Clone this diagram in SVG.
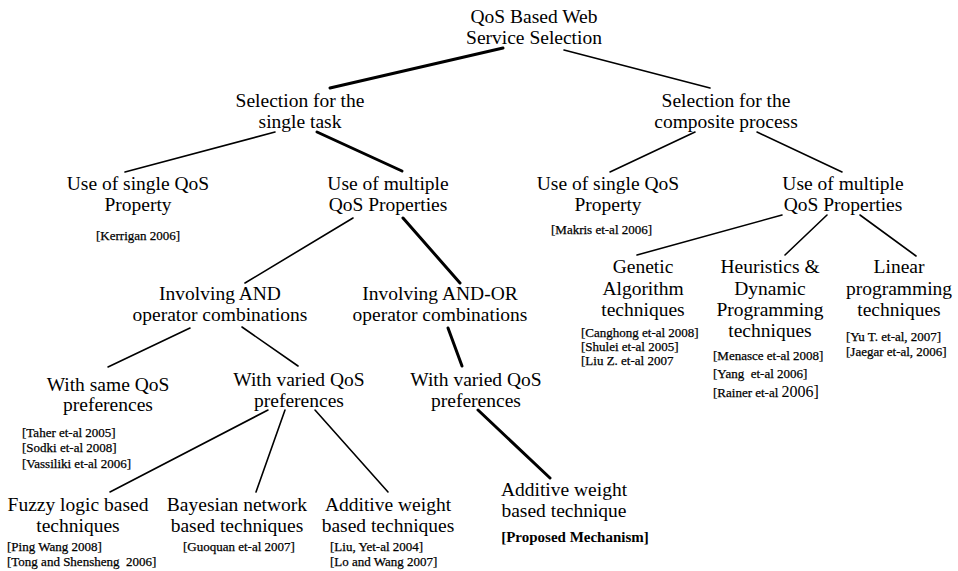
<svg xmlns="http://www.w3.org/2000/svg" width="958" height="571" viewBox="0 0 958 571" font-family="Liberation Serif, serif">
<style>
svg text, svg tspan, .t, .c, .pm{font-family:'Liberation Serif',serif !important}
.t{font-size:19.5px;text-anchor:middle;fill:#000}
.c{font-size:13px;fill:#000;stroke:#000;stroke-width:0.25;white-space:pre}
.pm{font-size:15px;font-weight:bold;text-anchor:middle;fill:#000}
.thin{stroke:#000;stroke-width:1.6;fill:none;stroke-linecap:round}
.thick{stroke:#000;stroke-width:3;fill:none;stroke-linecap:round}
</style>
<rect width="958" height="571" fill="#fff"/>
<g id="connectors">
<line class="thick" x1="503" y1="48" x2="330" y2="88"/>
<line class="thin" x1="564" y1="50" x2="710" y2="88"/>
<line class="thin" x1="275" y1="132" x2="125" y2="172"/>
<line class="thick" x1="317" y1="132" x2="402" y2="171"/>
<line class="thin" x1="695" y1="132" x2="610" y2="172"/>
<line class="thin" x1="757" y1="132" x2="842" y2="172"/>
<line class="thin" x1="782" y1="215" x2="637" y2="255"/>
<line class="thin" x1="827" y1="215" x2="785" y2="255"/>
<line class="thin" x1="860" y1="215" x2="916" y2="256"/>
<line class="thin" x1="353" y1="218" x2="245" y2="283"/>
<line class="thick" x1="403" y1="218" x2="460" y2="283"/>
<line class="thin" x1="190" y1="328" x2="108" y2="367"/>
<line class="thin" x1="242" y1="327" x2="298" y2="366"/>
<line class="thick" x1="448" y1="328" x2="462" y2="366"/>
<line class="thin" x1="268" y1="410" x2="110" y2="492"/>
<line class="thin" x1="285" y1="410" x2="256" y2="492"/>
<line class="thin" x1="315" y1="410" x2="388" y2="492"/>
<line class="thick" x1="478" y1="410" x2="550" y2="478"/>
</g>
<g id="root" font-family="Liberation Serif, serif">
<text class="t" x="534" y="23">QoS Based Web</text>
<text class="t" x="534" y="44">Service Selection</text>
</g>
<g id="sel-single" font-family="Liberation Serif, serif">
<text class="t" x="300" y="107">Selection for the</text>
<text class="t" x="300" y="128">single task</text>
</g>
<g id="sel-composite" font-family="Liberation Serif, serif">
<text class="t" x="726" y="107">Selection for the</text>
<text class="t" x="726" y="128">composite process</text>
</g>
<g id="single-left" font-family="Liberation Serif, serif">
<text class="t" x="138" y="190">Use of single QoS</text>
<text class="t" x="138" y="211">Property</text>
<text class="c" x="96" y="240">[Kerrigan 2006]</text>
</g>
<g id="multi-left" font-family="Liberation Serif, serif">
<text class="t" x="388" y="190">Use of multiple</text>
<text class="t" x="388" y="211">QoS Properties</text>
</g>
<g id="single-right" font-family="Liberation Serif, serif">
<text class="t" x="608" y="190">Use of single QoS</text>
<text class="t" x="608" y="211">Property</text>
<text class="c" x="551" y="234">[Makris et-al 2006]</text>
</g>
<g id="multi-right" font-family="Liberation Serif, serif">
<text class="t" x="843" y="190">Use of multiple</text>
<text class="t" x="843" y="211">QoS Properties</text>
</g>
<g id="genetic" font-family="Liberation Serif, serif">
<text class="t" x="643" y="273">Genetic</text>
<text class="t" x="643" y="295">Algorithm</text>
<text class="t" x="643" y="316">techniques</text>
<text class="c" x="581" y="337">[Canghong et-al 2008]</text>
<text class="c" x="581" y="351">[Shulei et-al 2005]</text>
<text class="c" x="581" y="365">[Liu Z. et-al 2007</text>
</g>
<g id="heuristics" font-family="Liberation Serif, serif">
<text class="t" x="770" y="273">Heuristics &amp;</text>
<text class="t" x="770" y="295">Dynamic</text>
<text class="t" x="770" y="316">Programming</text>
<text class="t" x="770" y="337">techniques</text>
<text class="c" x="713" y="360">[Menasce et-al 2008]</text>
<text class="c" x="713" y="378">[Yang  et-al 2006]</text>
<text class="c" x="713" y="397">[Rainer et-al <tspan font-size="16" stroke-width="0">2006]</tspan></text>
</g>
<g id="linear" font-family="Liberation Serif, serif">
<text class="t" x="899" y="273">Linear</text>
<text class="t" x="899" y="295">programming</text>
<text class="t" x="899" y="316">techniques</text>
<text class="c" x="846" y="341">[Yu T. et-al, 2007]</text>
<text class="c" x="846" y="356">[Jaegar et-al, 2006]</text>
</g>
<g id="and" font-family="Liberation Serif, serif">
<text class="t" x="220" y="300">Involving AND</text>
<text class="t" x="220" y="321">operator combinations</text>
</g>
<g id="and-or" font-family="Liberation Serif, serif">
<text class="t" x="440" y="300">Involving AND-OR</text>
<text class="t" x="440" y="321">operator combinations</text>
</g>
<g id="same-pref" font-family="Liberation Serif, serif">
<text class="t" x="108" y="391">With same QoS</text>
<text class="t" x="108" y="411">preferences</text>
<text class="c" x="22" y="437">[Taher et-al 2005]</text>
<text class="c" x="22" y="452">[Sodki et-al 2008]</text>
<text class="c" x="22" y="468">[Vassiliki et-al 2006]</text>
</g>
<g id="varied-left" font-family="Liberation Serif, serif">
<text class="t" x="299" y="386">With varied QoS</text>
<text class="t" x="299" y="407">preferences</text>
</g>
<g id="varied-right" font-family="Liberation Serif, serif">
<text class="t" x="476" y="386">With varied QoS</text>
<text class="t" x="476" y="407">preferences</text>
</g>
<g id="fuzzy" font-family="Liberation Serif, serif">
<text class="t" x="78" y="511">Fuzzy logic based</text>
<text class="t" x="78" y="532">techniques</text>
<text class="c" x="7" y="551">[Ping Wang 2008]</text>
<text class="c" x="7" y="566">[Tong and Shensheng  2006]</text>
</g>
<g id="bayesian" font-family="Liberation Serif, serif">
<text class="t" x="237" y="511">Bayesian network</text>
<text class="t" x="237" y="532">based techniques</text>
<text class="c" x="183" y="551">[Guoquan et-al 2007]</text>
</g>
<g id="additive" font-family="Liberation Serif, serif">
<text class="t" x="388" y="511">Additive weight</text>
<text class="t" x="388" y="532">based techniques</text>
<text class="c" x="330" y="551">[Liu, Yet-al 2004]</text>
<text class="c" x="330" y="566">[Lo and Wang 2007]</text>
</g>
<g id="proposed" font-family="Liberation Serif, serif">
<text class="t" x="564" y="496">Additive weight</text>
<text class="t" x="564" y="517">based technique</text>
<text class="pm" x="575" y="542">[Proposed Mechanism]</text>
</g>
</svg>
